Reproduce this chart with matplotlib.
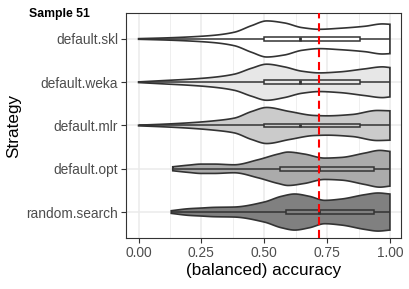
import numpy as np
import matplotlib
matplotlib.use("Agg")
import matplotlib.pyplot as plt
from matplotlib.patches import Polygon, Rectangle

plt.rcParams['font.family'] = ['Liberation Sans', 'DejaVu Sans']

# ---------------- data ----------------
strategies = ["random.search", "default.opt", "default.mlr", "default.weka", "default.skl"]
fills = ["#808080", "#ABABAB", "#CBCBCB", "#E7E7E7", "#FFFFFF"]

# violin density profiles (relative density)
dens_x = {
    "default.skl":   [0.0, 0.1, 0.2, 0.3, 0.38, 0.45, 0.51, 0.58, 0.65, 0.72, 0.8, 0.9, 0.97, 1.0],
    "default.weka":  [0.0, 0.1, 0.2, 0.3, 0.38, 0.45, 0.51, 0.58, 0.65, 0.72, 0.8, 0.9, 0.97, 1.0],
    "default.mlr":   [0.0, 0.1, 0.2, 0.3, 0.38, 0.45, 0.51, 0.6, 0.7, 0.75, 0.85, 0.95, 1.0],
    "default.opt":   [0.136, 0.2, 0.25, 0.3, 0.38, 0.475, 0.555, 0.595, 0.66, 0.74, 0.807, 0.9, 0.96, 1.0],
    "random.search": [0.13, 0.2, 0.25, 0.3, 0.38, 0.5, 0.568, 0.621, 0.68, 0.741, 0.807, 0.9, 0.953, 1.0],
}
dens_y = {
    "default.skl":   [1, 3, 6, 11, 20, 40, 54, 48, 34, 29, 32, 38, 45, 44],
    "default.weka":  [1, 5, 9, 15, 24, 42, 54, 46, 33, 28, 31, 40, 46, 44],
    "default.mlr":   [1, 4, 8, 14, 22, 42, 54, 42, 30, 29, 33, 45, 44],
    "default.opt":   [6, 11, 14, 14, 12, 27, 44, 50, 44, 32, 34, 47, 55, 52],
    "random.search": [4, 10, 12, 14, 15, 30, 47, 54, 47, 35, 39, 52, 57, 54],
}

# box statistics
whisker_lo = [0.13, 0.136, 0.0, 0.0, 0.0]
q1 = [0.588, 0.563, 0.50, 0.50, 0.50]
median = [0.718, 0.718, 0.644, 0.644, 0.644]
q3 = [0.9375, 0.9375, 0.882, 0.882, 0.882]
whisker_hi = [1.0, 1.0, 1.0, 1.0, 1.0]

ref_line = 0.717
x_ticks = [0.0, 0.25, 0.5, 0.75, 1.0]
x_ticklabels = ["0.00", "0.25", "0.50", "0.75", "1.00"]
title = "Sample 51"
xlabel = "(balanced) accuracy"
ylabel = "Strategy"


def hermite(xs, ys, n=400):
    xs = np.asarray(xs, float)
    ys = np.asarray(ys, float)
    d = np.diff(ys) / np.diff(xs)
    m = np.zeros_like(ys)
    m[0] = d[0]
    m[-1] = d[-1]
    for i in range(1, len(ys) - 1):
        if d[i - 1] * d[i] <= 0:
            m[i] = 0.0
        else:
            w1 = 2 * (xs[i + 1] - xs[i]) + (xs[i] - xs[i - 1])
            w2 = (xs[i + 1] - xs[i]) + 2 * (xs[i] - xs[i - 1])
            m[i] = (w1 + w2) / (w1 / d[i - 1] + w2 / d[i])
    xf = np.linspace(xs[0], xs[-1], n)
    idx = np.clip(np.searchsorted(xs, xf) - 1, 0, len(xs) - 2)
    h = xs[idx + 1] - xs[idx]
    t = (xf - xs[idx]) / h
    h00 = 2 * t**3 - 3 * t**2 + 1
    h10 = t**3 - 2 * t**2 + t
    h01 = -2 * t**3 + 3 * t**2
    h11 = t**3 - t**2
    yf = h00 * ys[idx] + h10 * h * m[idx] + h01 * ys[idx + 1] + h11 * h * m[idx + 1]
    return xf, yf


fig = plt.figure(figsize=(4.10, 2.89), dpi=100)
ax = fig.add_axes([126.5 / 410, 51 / 289, (401 - 126.5) / 410, (238 - 13) / 289])

edge = "#333333"
gmax = max(max(v) for v in dens_y.values())
max_half = 0.44

# grid
for xv in [0.125, 0.375, 0.625, 0.875]:
    ax.axvline(xv, color="#EBEBEB", lw=0.55, zorder=0)
for xv in x_ticks:
    ax.axvline(xv, color="#EBEBEB", lw=1.1, zorder=0)
for i in range(len(strategies)):
    ax.axhline(i + 1, color="#EBEBEB", lw=1.1, zorder=0)

for i, s in enumerate(strategies):
    c = i + 1
    xf, yf = hermite(dens_x[s], dens_y[s])
    hw = np.clip(yf, 0.3, None) / gmax * max_half
    px = np.concatenate([xf, xf[::-1]])
    py = np.concatenate([c + hw, (c - hw)[::-1]])
    ax.add_patch(Polygon(np.column_stack([px, py]), closed=True,
                         facecolor=fills[i], edgecolor=edge, lw=1.2, zorder=2))
    # whiskers
    ax.plot([whisker_lo[i], q1[i]], [c, c], color=edge, lw=1.1, zorder=3,
            solid_capstyle="butt")
    ax.plot([q3[i], whisker_hi[i]], [c, c], color=edge, lw=1.1, zorder=3,
            solid_capstyle="butt")
    bh = 0.045
    ax.add_patch(Rectangle((q1[i], c - bh), q3[i] - q1[i], 2 * bh,
                           facecolor=fills[i], edgecolor=edge, lw=1.1, zorder=3))
    ax.plot([median[i], median[i]], [c - bh, c + bh], color=edge, lw=2.0,
            zorder=4, solid_capstyle="butt")

ax.axvline(ref_line, color="red", lw=1.5, linestyle=(0, (3.9, 2.3)), zorder=5)

ax.set_xlim(-0.048, 1.044)
ax.set_ylim(0.4, 5.6)
ax.set_xticks(x_ticks)
ax.set_xticklabels(x_ticklabels)
ax.set_yticks(range(1, len(strategies) + 1))
ax.set_yticklabels(strategies)
ax.tick_params(axis="both", length=3.8, width=0.8, color=edge,
               labelcolor="#4D4D4D", labelsize=9.9, pad=2.2)
for sp in ax.spines.values():
    sp.set_color(edge)
    sp.set_linewidth(0.8)
ax.set_xlabel(xlabel, fontsize=12.3, color="black", labelpad=2)
ax.set_ylabel(ylabel, fontsize=12.3, color="black", labelpad=4)
fig.text(29 / 410, 1 - 17.5 / 289, title, fontsize=8.8, fontweight="bold",
         ha="left", va="baseline")

fig.savefig("out.png", dpi=100)
